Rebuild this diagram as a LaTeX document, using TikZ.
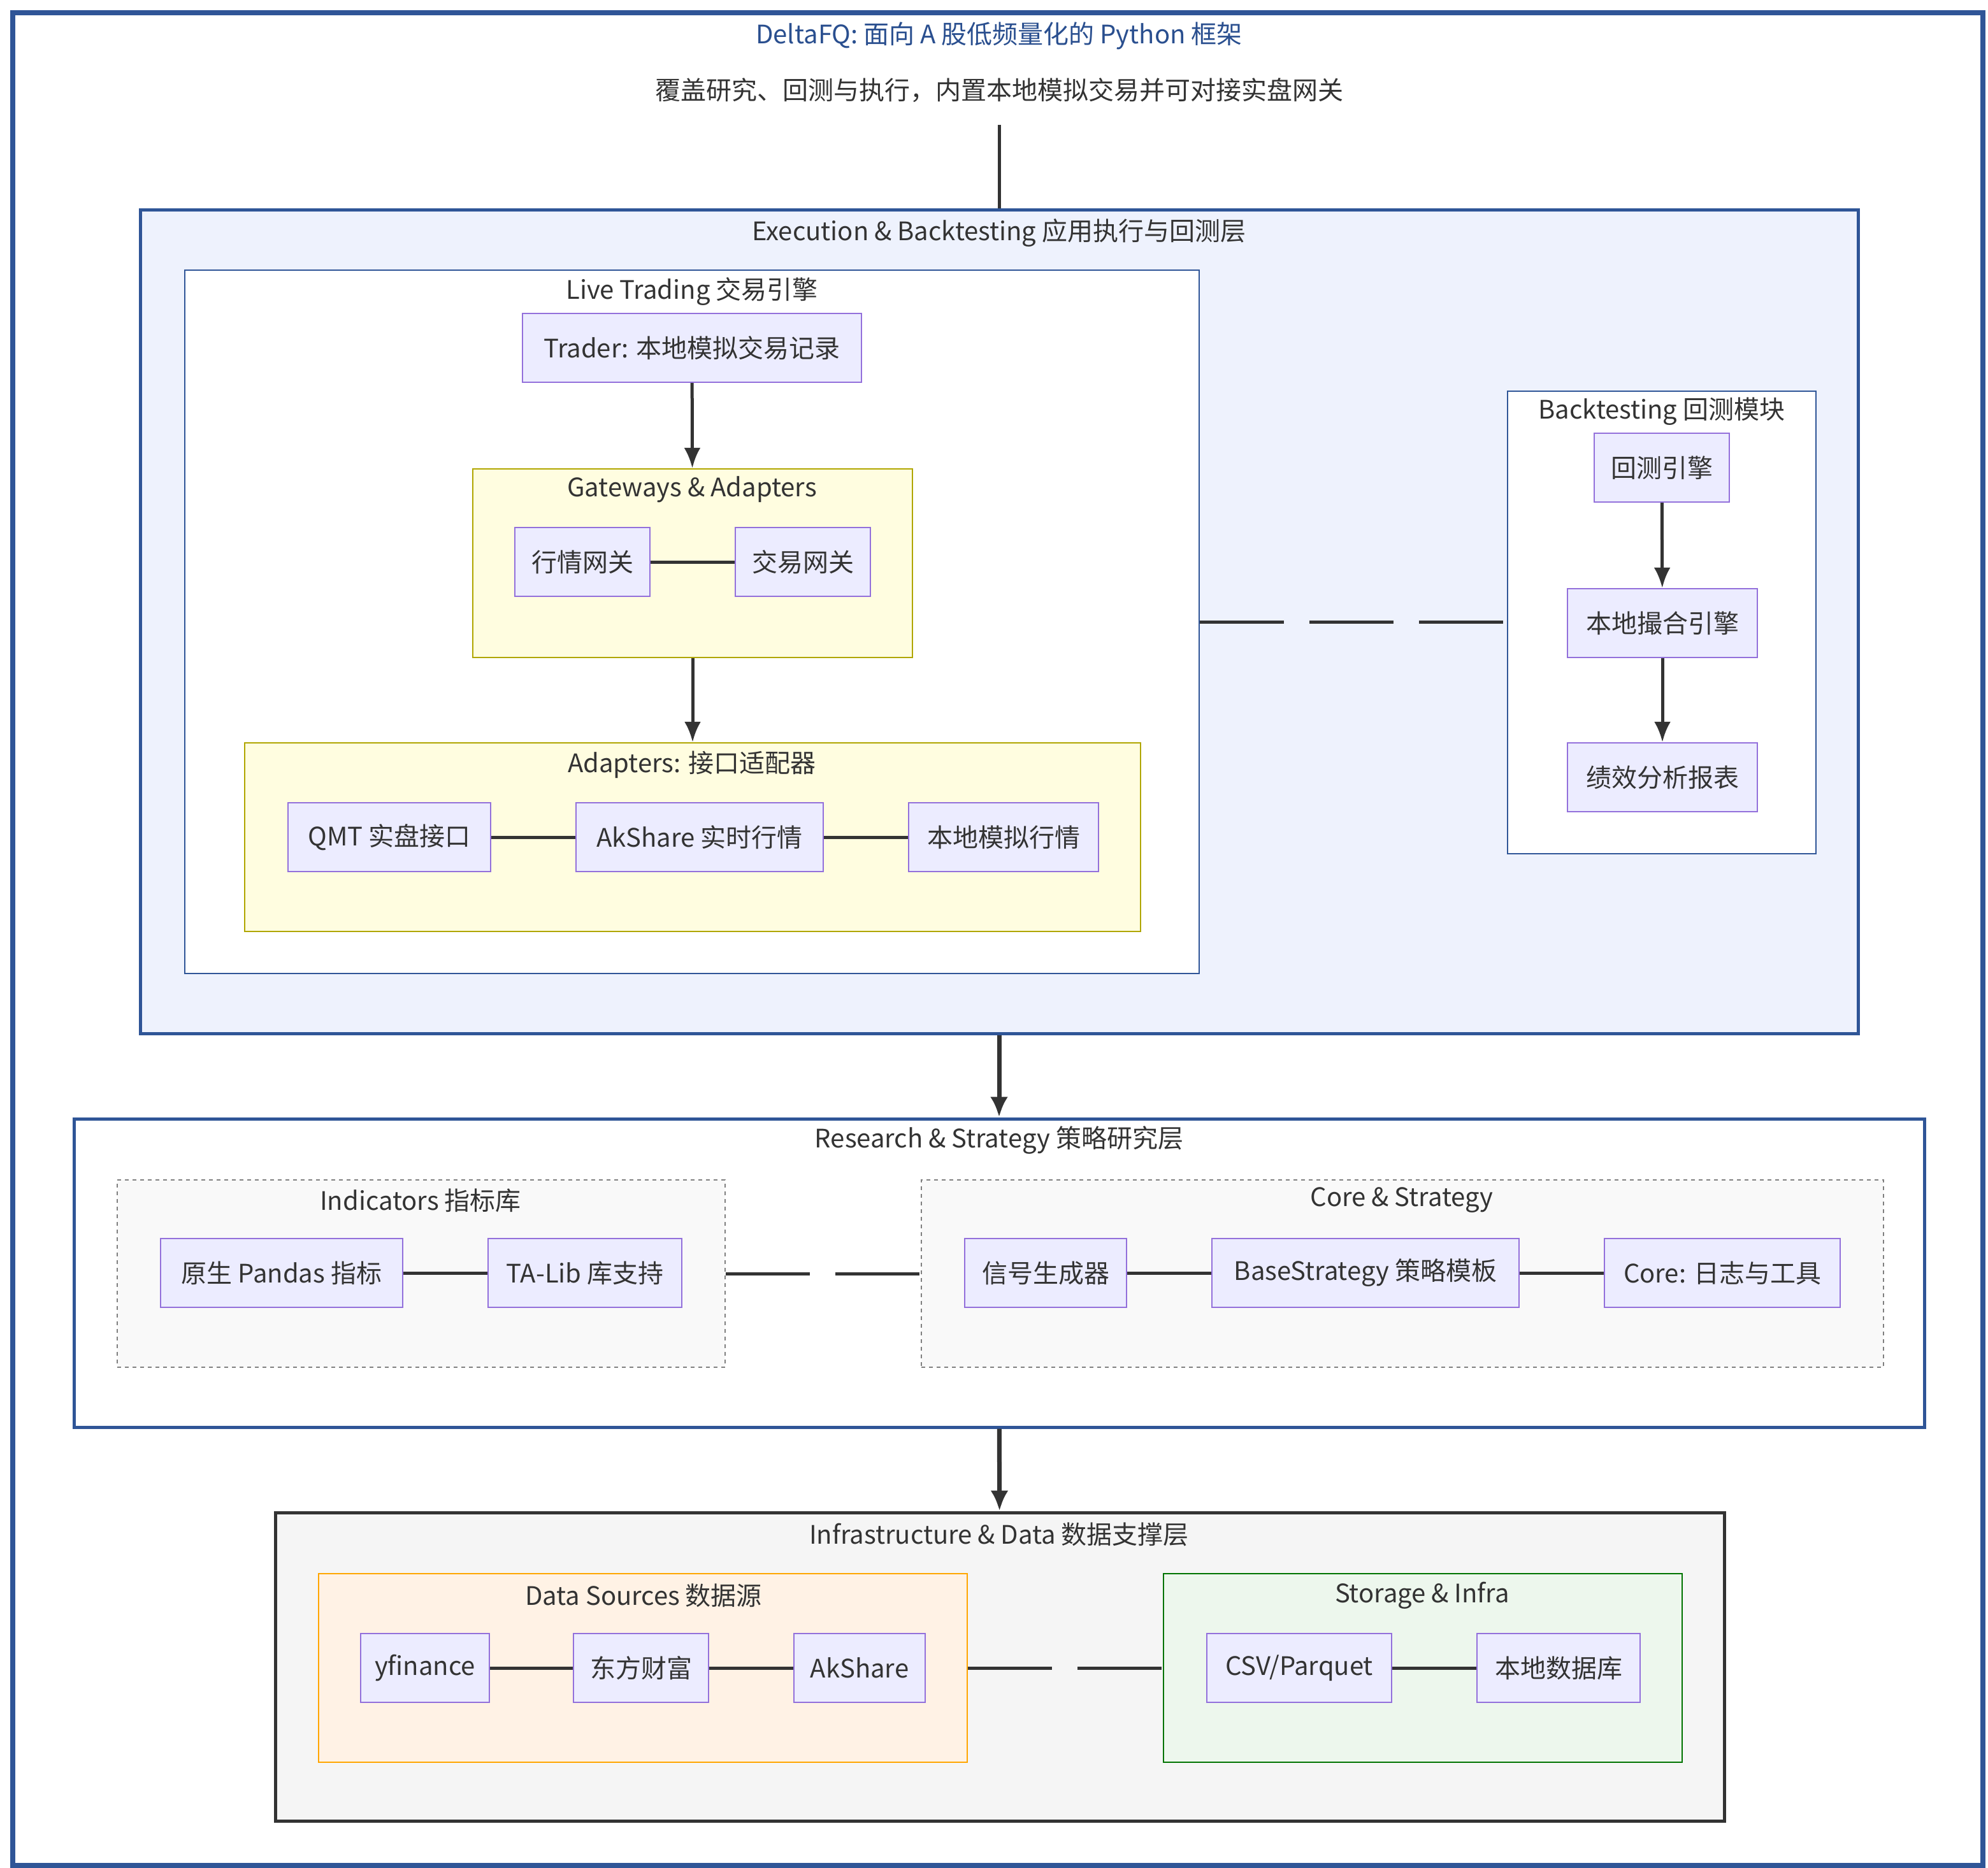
\documentclass[tikz,border=0pt]{standalone}
\usepackage{fontspec}
\setmainfont{Noto Sans CJK SC}
\usetikzlibrary{arrows.meta}
\definecolor{nfill}{HTML}{ECECFF}
\definecolor{nline}{HTML}{9370DB}
\definecolor{blu}{HTML}{2F5597}
\definecolor{ttl}{HTML}{2A4F8F}
\definecolor{txt}{HTML}{333333}
\definecolor{exfill}{HTML}{EEF2FD}
\newcommand{\bx}[7]{\node[#6, anchor=center, minimum width={(#4-#2)*1pt}, minimum height={(#5-#3)*1pt}] (#1) at ({(#2+#4)/2},{(#3+#5)/2}) {#7};}
\tikzset{
  n/.style={draw=nline, fill=nfill, line width=1.2pt, inner sep=0pt, font=\fontsize{20}{23}\selectfont, text=txt},
  grp/.style={draw=blu, line width=1.4pt, inner sep=0pt},
  lbl/.style={font=\fontsize{20}{23}\selectfont, text=txt, inner sep=0pt},
  ln/.style={line width=2.5pt, draw=txt},
  ar/.style={line width=2.5pt, draw=txt, -{Latex[length=16pt,width=13pt]}},
  bar/.style={line width=3.5pt, draw=txt, -{Latex[length=16pt,width=14pt]}},
  dl/.style={line width=2.5pt, draw=txt, dash pattern=on 66pt off 20pt},
}
\begin{document}
\begin{tikzpicture}[x=1pt,y=-1pt]
\useasboundingbox (0,0) rectangle (1560,1466);
\fill[white] (0,0) rectangle (1560,1466);
\draw[blu, line width=4pt] (10,10) rectangle (1556,1464);
\node[lbl, text=ttl] (title) at (784,28) {DeltaFQ: 面向 A 股低频量化的 Python 框架};
\node[lbl] (sub) at (784,71) {覆盖研究、回测与执行，内置本地模拟交易并可对接实盘网关};
% Execution layer
\bx{exec}{110}{165}{1458}{811}{grp, fill=exfill, line width=2.5pt}{}
\node[lbl] (execL) at (784,183) {Execution \& Backtesting 应用执行与回测层};
\bx{live}{145}{212}{941}{764}{grp, fill=white}{}
\node[lbl] (liveL) at (543,229) {Live Trading 交易引擎};
\bx{trader}{410}{246}{676}{300}{n}{Trader: 本地模拟交易记录}
\bx{gw}{371}{368}{716}{516}{draw=olive!70!yellow, fill=yellow!12, line width=1.2pt}{}
\node[lbl] (gwL) at (543,384) {Gateways \& Adapters};
\bx{hq}{404}{414}{510}{468}{n}{行情网关}
\bx{jy}{577}{414}{683}{468}{n}{交易网关}
\bx{ad}{192}{583}{895}{731}{draw=olive!70!yellow, fill=yellow!12, line width=1.2pt}{}
\node[lbl] (adL) at (543,600) {Adapters: 接口适配器};
\bx{qmt}{226}{630}{385}{684}{n}{QMT 实盘接口}
\bx{aks}{452}{630}{646}{684}{n}{AkShare 实时行情}
\bx{mn}{713}{630}{862}{684}{n}{本地模拟行情}
\bx{bt}{1183}{307}{1425}{670}{grp, fill=white}{}
\node[lbl] (btL) at (1304,323) {Backtesting 回测模块};
\bx{hc}{1251}{340}{1357}{394}{n}{回测引擎}
\bx{ch}{1230}{462}{1379}{516}{n}{本地撮合引擎}
\bx{jx}{1230}{583}{1379}{637}{n}{绩效分析报表}
% Research layer
\bx{res}{58}{878}{1510}{1120}{grp, fill=white, line width=2.5pt}{}
\node[lbl] (resL) at (784,895) {Research \& Strategy 策略研究层};
\bx{ind}{92}{926}{569}{1073}{draw=gray, fill=gray!5, dashed, line width=1.2pt}{}
\node[lbl] (indL) at (330,942) {Indicators 指标库};
\bx{pd}{126}{972}{316}{1026}{n}{原生 Pandas 指标}
\bx{ta}{383}{972}{535}{1026}{n}{TA-Lib 库支持}
\bx{core}{723}{926}{1478}{1073}{draw=gray, fill=gray!5, dashed, line width=1.2pt}{}
\node[lbl] (coreL) at (1100,942) {Core \& Strategy};
\bx{sig}{757}{972}{884}{1026}{n}{信号生成器}
\bx{bs}{951}{972}{1192}{1026}{n}{BaseStrategy 策略模板}
\bx{cr}{1259}{972}{1444}{1026}{n}{Core: 日志与工具}
% Infra layer
\bx{inf}{216}{1187}{1353}{1429}{draw=txt, fill=gray!8, line width=2.5pt}{}
\node[lbl] (infL) at (784,1204) {Infrastructure \& Data 数据支撑层};
\bx{ds}{250}{1235}{759}{1383}{draw=orange!70!yellow, fill=orange!10, line width=1.2pt}{}
\node[lbl] (dsL) at (505,1252) {Data Sources 数据源};
\bx{yf}{283}{1282}{384}{1336}{n}{yfinance}
\bx{df}{450}{1282}{556}{1336}{n}{东方财富}
\bx{ak}{623}{1282}{726}{1336}{n}{AkShare}
\bx{st}{913}{1235}{1320}{1383}{draw=green!45!black, fill=green!40!gray!10, line width=1.2pt}{}
\node[lbl] (stL) at (1116,1252) {Storage \& Infra};
\bx{csv}{947}{1282}{1092}{1336}{n}{CSV/Parquet}
\bx{db}{1159}{1282}{1287}{1336}{n}{本地数据库}
% connectors
\coordinate (subEnd) at (784,98);
\draw[ln] (subEnd) -- (exec.north);
\draw[ar] (trader) -- (gw);
\draw[ln] (hq) -- (jy);
\draw[ar] (gw) -- (ad);
\draw[ln] (qmt) -- (aks);
\draw[ln] (aks) -- (mn);
\draw[ar] (hc) -- (ch);
\draw[ar] (ch) -- (jx);
\draw[dl] (live.east) -- (bt.west |- live.east);
\draw[bar] (exec) -- (res);
\draw[ln] (pd) -- (ta);
\draw[ln] (sig) -- (bs);
\draw[ln] (bs) -- (cr);
\draw[dl] (ind.east) -- (core.west);
\draw[bar] (res) -- (inf);
\draw[ln] (yf) -- (df);
\draw[ln] (df) -- (ak);
\draw[ln] (csv) -- (db);
\draw[dl] (ds.east) -- (st.west);
\end{tikzpicture}
\end{document}
